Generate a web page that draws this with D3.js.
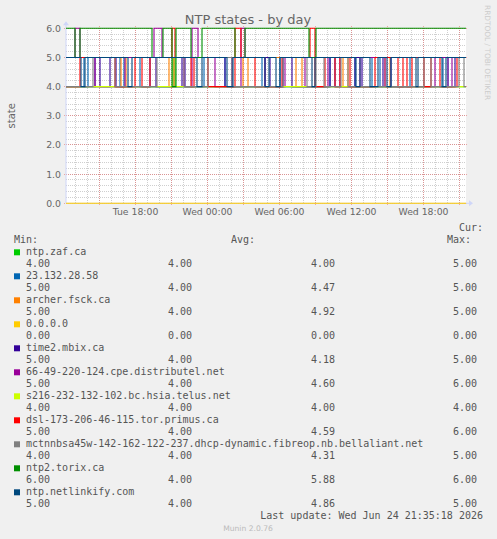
<!DOCTYPE html>
<html>
<head>
<meta charset="utf-8">
<script src="https://cdn.jsdelivr.net/npm/d3@7/dist/d3.min.js"></script>
<style>
body { margin: 0; background: #f0f0f0; }
svg { display: block; }
</style>
</head>
<body>
<svg id="chart" width="497" height="539"></svg>
<script>
// ---- data ----
var names = ["ntp.zaf.ca", "23.132.28.58", "archer.fsck.ca", "0.0.0.0", "time2.mbix.ca",
  "66-49-220-124.cpe.distributel.net", "s216-232-132-102.bc.hsia.telus.net",
  "dsl-173-206-46-115.tor.primus.ca",
  "mctnnbsa45w-142-162-122-237.dhcp-dynamic.fibreop.nb.bellaliant.net",
  "ntp2.torix.ca", "ntp.netlinkify.com"];
var colors = ["#00CC00", "#0066B3", "#FF8000", "#FFCC00", "#330099", "#990099",
  "#CCFF00", "#FF0000", "#808080", "#008F00", "#00487D"];
var curV = [4, 5, 5, 0, 5, 5, 4, 5, 4, 6, 5];
var minV = [4, 4, 4, 0, 4, 4, 4, 4, 4, 4, 4];
var avgV = [4.00, 4.47, 4.92, 0, 4.18, 4.60, 4.00, 4.59, 4.31, 5.88, 4.86];
var maxV = [5, 5, 5, 0, 5, 6, 4, 6, 5, 6, 5];

// state changes: [time, new state]
var zaf = [["Tue 12:15",4],["Tue 21:10",5],["Tue 21:20",4]];
var ip23 = [["Tue 12:15",5],["Tue 13:45",4],["Tue 14:05",5],["Tue 16:45",4],["Tue 17:05",5],["Tue 18:25",4],
  ["Tue 23:45",5],["Wed 01:30",4],["Wed 04:35",5],["Wed 06:05",4],["Wed 10:15",5],["Wed 12:20",4],
  ["Wed 13:45",5],["Wed 14:25",4],["Wed 16:55",5],["Wed 19:40",4],["Wed 20:05",5]];
var archer = [["Tue 12:15",5],["Tue 16:50",4],["Tue 17:15",5],["Tue 20:50",4],["Tue 21:15",5],["Wed 03:00",4],
  ["Wed 03:25",5],["Wed 07:25",4],["Wed 07:55",5],["Wed 11:20",4],["Wed 11:45",5],["Wed 14:50",4],["Wed 15:15",5]];
var zero = [["Tue 12:15",0]];
var time2 = [["Tue 12:15",4],["Tue 14:40",5],["Tue 15:05",4],["Tue 15:55",5],["Tue 16:25",4],["Tue 19:15",5],
  ["Tue 19:45",4],["Tue 21:55",5],["Tue 22:10",4],["Wed 01:30",5],["Wed 02:05",4],["Wed 04:50",5],["Wed 05:15",4],
  ["Wed 06:20",5],["Wed 07:05",4],["Wed 10:15",5],["Wed 10:40",4],["Wed 12:20",5],["Wed 12:55",4],["Wed 14:40",5],
  ["Wed 15:20",4],["Wed 20:40",5]];
var distributel = [["Tue 12:15",5],["Tue 13:00",6],["Tue 13:25",5],["Tue 14:40",4],["Tue 17:10",5],["Tue 19:35",6],
  ["Tue 20:15",5],["Tue 22:05",4],["Tue 22:45",6],["Tue 23:15",5],["Wed 00:40",4],["Wed 02:50",6],["Wed 03:10",5],
  ["Wed 04:50",4],["Wed 06:30",5],["Wed 08:10",4],["Wed 10:05",5],["Wed 11:05",4],["Wed 12:45",5],["Wed 14:50",4],
  ["Wed 19:00",5],["Wed 20:05",4],["Wed 20:25",5]];
var telus = [["Tue 12:15",4]];
var primus = [["Tue 12:15",4],["Tue 13:25",5],["Tue 16:20",4],["Tue 18:00",5],["Tue 18:35",4],["Tue 19:15",5],
  ["Tue 21:05",6],["Tue 21:20",5],["Tue 22:40",4],["Tue 22:55",5],["Wed 00:05",4],["Wed 02:20",6],["Wed 02:50",5],
  ["Wed 04:00",4],["Wed 06:15",5],["Wed 08:35",6],["Wed 09:00",4],["Wed 09:50",5],["Wed 10:40",4],["Wed 11:05",5],
  ["Wed 11:55",4],["Wed 14:00",5],["Wed 15:55",4],["Wed 16:20",5],["Wed 16:40",4],["Wed 17:05",5],["Wed 18:05",4],
  ["Wed 18:40",5],["Wed 19:25",4],["Wed 20:50",5]];
var bellaliant = [["Tue 12:15",4],["Tue 14:30",5],["Tue 16:20",4],["Tue 19:50",5],["Tue 22:05",4],["Wed 00:05",5],
  ["Wed 02:05",4],["Wed 06:20",5],["Wed 08:20",4],["Wed 09:05",5],["Wed 09:45",4],["Wed 11:10",5],["Wed 11:45",4],
  ["Wed 18:05",5],["Wed 18:40",4],["Wed 21:00",5],["Wed 21:25",4]];
var torix = [["Tue 12:15",6],["Tue 13:00",5],["Tue 13:25",6],["Tue 19:25",5],["Tue 20:20",6],["Tue 21:05",4],
  ["Tue 21:25",6],["Tue 22:40",5],["Tue 23:35",6],["Wed 02:20",5],["Wed 03:10",6],["Wed 08:30",5],["Wed 09:05",6]];
var netlinkify = [["Tue 12:15",5],["Tue 13:30",4],["Tue 13:50",5],["Tue 17:25",4],["Tue 17:45",5],["Tue 23:10",4],
  ["Tue 23:35",5],["Wed 01:40",4],["Wed 02:10",5],["Wed 04:50",4],["Wed 05:10",5],["Wed 05:45",4],["Wed 06:05",5],
  ["Wed 08:45",4],["Wed 09:00",5],["Wed 12:25",4],["Wed 12:45",5],["Wed 13:35",4],["Wed 14:15",5],["Wed 15:00",4],
  ["Wed 15:20",5],["Wed 17:25",4],["Wed 17:35",5],["Wed 19:35",4],["Wed 19:55",5]];

var series = [zaf, ip23, archer, zero, time2, distributel, telus, primus, bellaliant, torix, netlinkify];

var startT = new Date(2026, 5, 23, 12, 15),
    endT = new Date(2026, 5, 24, 21, 35);

// ---- drawing ----
var svg = d3.select("svg"),
    pLeft = 66, pRight = 466, pTop = 28.3, pBottom = 203.3;

var x = d3.scaleTime().domain([startT, endT]).range([pLeft, pRight]),
    y = d3.scaleLinear().domain([0, 6]).range([pBottom, pTop]);

function parseT(s) {
  var p = s.split(" "), hm = p[1].split(":");
  return new Date(2026, 5, p[0] == "Tue" ? 23 : 24, +hm[0], +hm[1]);
}

var font = "DejaVu Sans, sans-serif",
    mono = "DejaVu Sans Mono, monospace";

svg.append("rect").attr("width", 497).attr("height", 539).attr("fill", "#f0f0f0");
svg.append("rect")
    .attr("x", pLeft).attr("y", pTop)
    .attr("width", pRight - pLeft).attr("height", pBottom - pTop)
    .attr("fill", "#fff");

var grid = svg.append("g").attr("shape-rendering", "crispEdges");

// minor grid
grid.selectAll(".hmin").data(y.ticks(30)).enter().append("line")
    .attr("x1", pLeft).attr("x2", pRight)
    .attr("y1", d => y(d)).attr("y2", d => y(d))
    .attr("stroke", "rgba(160,160,160,0.5)").attr("stroke-dasharray", "1,1");
grid.selectAll(".vmin").data(x.ticks(d3.timeHour.every(1))).enter().append("line")
    .attr("x1", d => x(d)).attr("x2", d => x(d))
    .attr("y1", pTop).attr("y2", pBottom)
    .attr("stroke", "rgba(160,160,160,0.5)").attr("stroke-dasharray", "1,1");
// major grid
grid.selectAll(".hmaj").data(y.ticks(6)).enter().append("line")
    .attr("x1", pLeft - 2).attr("x2", pRight + 2)
    .attr("y1", d => y(d)).attr("y2", d => y(d))
    .attr("stroke", "rgba(230,90,90,0.5)").attr("stroke-dasharray", "1,1");
grid.selectAll(".vmaj").data(x.ticks(d3.timeHour.every(3))).enter().append("line")
    .attr("x1", d => x(d)).attr("x2", d => x(d))
    .attr("y1", pTop - 2).attr("y2", pBottom + 2)
    .attr("stroke", "rgba(230,90,90,0.5)").attr("stroke-dasharray", "1,1");

// axes lines + arrows
var axisCol = "#CFD6F8";
svg.append("line").attr("x1", pLeft).attr("x2", pRight + 4)
    .attr("y1", pBottom).attr("y2", pBottom).attr("stroke", axisCol);
svg.append("line").attr("x1", pLeft).attr("x2", pLeft)
    .attr("y1", pBottom).attr("y2", pTop - 4).attr("stroke", axisCol);
svg.append("path").attr("d", "M" + (pRight + 3) + "," + (pBottom - 3) + "L" + (pRight + 7) + "," + pBottom + "L" + (pRight + 3) + "," + (pBottom + 3) + "Z")
    .attr("fill", axisCol);
svg.append("path").attr("d", "M" + (pLeft - 3) + "," + (pTop - 3) + "L" + pLeft + "," + (pTop - 7) + "L" + (pLeft + 3) + "," + (pTop - 3) + "Z")
    .attr("fill", axisCol);

// series, drawn in legend order so the last one ends up on top
var line = d3.line()
    .curve(d3.curveStepAfter)
    .x(d => x(d.t))
    .y(d => y(d.v));

series.forEach(function(s, i) {
  var pts = s.map(d => ({t: parseT(d[0]), v: d[1]}));
  pts.push({t: endT, v: pts[pts.length - 1].v});
  svg.append("path")
      .attr("d", line(pts))
      .attr("fill", "none")
      .attr("stroke", colors[i])
      .attr("stroke-width", 1.1);
});

// tick labels
var yAx = svg.append("g").attr("transform", "translate(" + pLeft + ",0)")
    .call(d3.axisLeft(y).ticks(6).tickFormat(d3.format(".1f")).tickSize(0).tickPadding(5));
var xAx = svg.append("g").attr("transform", "translate(0," + pBottom + ")")
    .call(d3.axisBottom(x).ticks(d3.timeHour.every(6)).tickFormat(d3.timeFormat("%a %H:%M")).tickSize(0).tickPadding(5));
[yAx, xAx].forEach(function(a) {
  a.select(".domain").remove();
  a.selectAll("text").attr("fill", "#666").style("font-family", font).style("font-size", "9.3px");
});

// titles
svg.append("text").attr("x", 248).attr("y", 24).attr("text-anchor", "middle")
    .style("font-family", font).style("font-size", "13px").attr("fill", "#666")
    .text("NTP states - by day");
svg.append("text").attr("transform", "translate(15," + ((pTop + pBottom) / 2) + ") rotate(-90)")
    .attr("text-anchor", "middle")
    .style("font-family", font).style("font-size", "10px").attr("fill", "#666")
    .text("state");
svg.append("text").attr("transform", "translate(485,5) rotate(90)")
    .style("font-family", font).style("font-size", "7.4px").attr("fill", "#ccc")
    .text("RRDTOOL / TOBI OETIKER");

// legend
var leg = svg.append("g").style("font-family", mono).style("font-size", "10px").attr("fill", "#555");
leg.append("text").attr("x", 483).attr("y", 231).attr("text-anchor", "end").text("Cur:");
leg.append("text").attr("x", 14).attr("y", 243).text("Min:");
leg.append("text").attr("x", 231).attr("y", 243).text("Avg:");
leg.append("text").attr("x", 447).attr("y", 243).text("Max:");

var fmt = d3.format(".2f"),
    cols = [26, 168, 311, 453];
names.forEach(function(n, i) {
  var base = 255.3 + 24 * i;
  leg.append("rect").attr("x", 14).attr("y", base - 6).attr("width", 6).attr("height", 6)
      .attr("fill", colors[i]);
  leg.append("text").attr("x", 26).attr("y", base).text(n);
  [curV[i], minV[i], avgV[i], maxV[i]].forEach(function(v, j) {
    leg.append("text").attr("x", cols[j]).attr("y", base + 12).text(fmt(v));
  });
});

leg.append("text").attr("x", 483).attr("y", 519).attr("text-anchor", "end")
    .text("Last update: Wed Jun 24 21:35:18 2026");
svg.append("text").attr("x", 248).attr("y", 531).attr("text-anchor", "middle")
    .style("font-family", font).style("font-size", "7.6px").attr("fill", "#bbb")
    .text("Munin 2.0.76");
</script>
</body>
</html>
